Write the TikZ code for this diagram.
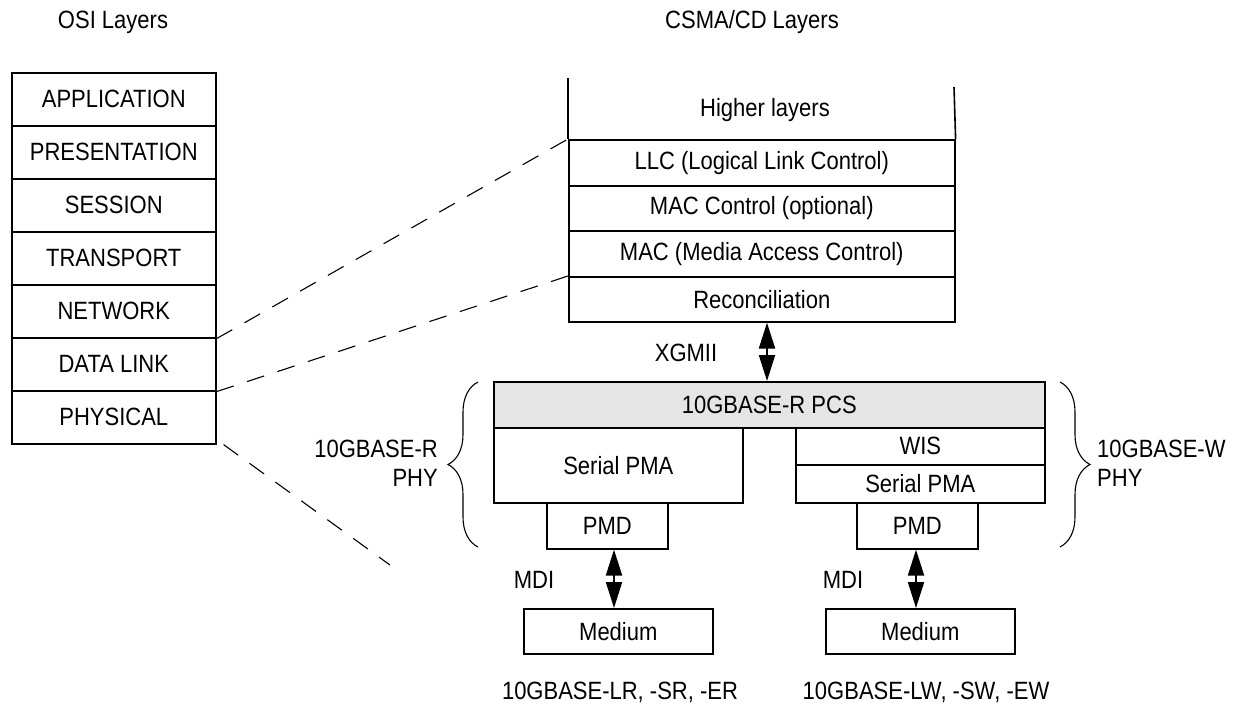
\documentclass[tikz,border=0pt]{standalone}
\usepackage{fontspec}
\setmainfont{Liberation Sans}[FakeStretch=0.88]
\usetikzlibrary{arrows.meta,decorations.pathreplacing}
\begin{document}
\begin{tikzpicture}[x=1pt,y=-1pt,
  every node/.style={font=\fontsize{25}{29}\selectfont},
  box/.style={draw,line width=1.6pt,inner sep=0pt,anchor=north west},
  grayfill/.style={fill=gray!20},
  dbl/.style={line width=2pt,{Triangle[length=26pt,width=16pt]}-{Triangle[length=26pt,width=16pt]}},
  dashline/.style={line width=1.1pt,dash pattern=on 18pt off 14pt},
  bracestyle/.style={line width=1.1pt,decorate,decoration={brace,amplitude=30pt}},
  lbl/.style={inner sep=0pt}]
\useasboundingbox (0,0) rectangle (1237,706);
% titles
\node[lbl] (osititle) at (113,22) {OSI Layers};
\node[lbl] (csmatitle) at (752,22) {CSMA/CD Layers};
% OSI stack
\node[box,minimum width=204pt,minimum height=53pt] (app) at (11,72) {APPLICATION};
\node[box,minimum width=204pt,minimum height=53pt] (pre) at (11,125) {PRESENTATION};
\node[box,minimum width=204pt,minimum height=53pt] (ses) at (11,178) {SESSION};
\node[box,minimum width=204pt,minimum height=53pt] (tra) at (11,231) {TRANSPORT};
\node[box,minimum width=204pt,minimum height=53pt] (net) at (11,284) {NETWORK};
\node[box,minimum width=204pt,minimum height=53pt] (dl) at (11,337) {DATA LINK};
\node[box,minimum width=204pt,minimum height=53pt] (phy) at (11,390) {PHYSICAL};
% CSMA/CD stack
\node[lbl] (hl) at (765,110) {Higher layers};
\node[box,minimum width=386pt,minimum height=46pt] (llc) at (568,139) {LLC (Logical Link Control)};
\node[box,minimum width=386pt,minimum height=45pt] (macc) at (568,185) {MAC Control (optional)};
\node[box,minimum width=386pt,minimum height=46pt] (mac) at (568,230) {MAC (Media Access Control)};
\node[box,minimum width=386pt,minimum height=45pt] (rec) at (568,276) {Reconciliation};
\coordinate (hlL) at (568,78);
\coordinate (hlR) at (954,87);
\draw[line width=1.6pt] (hlL) -- (llc.north west);
\draw[line width=1.6pt] (hlR) -- (llc.north east);
% PHY part
\node[box,grayfill,minimum width=551pt,minimum height=46pt] (pcs) at (493,381) {10GBASE-R PCS};
\node[box,minimum width=249pt,minimum height=75pt] (pmaL) at (493,427) {Serial PMA};
\node[box,minimum width=121pt,minimum height=46pt] (pmdL) at (546,502) {PMD};
\node[box,minimum width=249pt,minimum height=37pt] (wis) at (795,427) {WIS};
\node[box,minimum width=249pt,minimum height=38pt] (pmaR) at (795,464) {Serial PMA};
\node[box,minimum width=121pt,minimum height=46pt] (pmdR) at (856,502) {PMD};
\node[box,minimum width=189pt,minimum height=45pt] (medL) at (523,608) {Medium};
\node[box,minimum width=189pt,minimum height=45pt] (medR) at (825,608) {Medium};
% arrows
\coordinate (xg) at (767,0);
\coordinate (mdiLx) at (614,0);
\coordinate (mdiRx) at (916,0);
\draw[dbl] (rec.south -| xg) -- (pcs.north -| xg);
\draw[dbl] (pmdL.south -| mdiLx) -- (medL.north -| mdiLx);
\draw[dbl] (pmdR.south -| mdiRx) -- (medR.north -| mdiRx);
\node[lbl] (xgmii) at (686,353) {XGMII};
\node[lbl] (mdiL) at (534,580) {MDI};
\node[lbl] (mdiR) at (843,580) {MDI};
% dashed correspondences
\coordinate (d3end) at (390,565);
\draw[dashline] (net.south east) -- (llc.north west);
\draw[dashline] (dl.south east) -- (rec.north west);
\draw[dashline] ([xshift=7pt]phy.south east) -- (d3end);
% braces
\coordinate (bLt) at (478,382);
\coordinate (bLb) at (478,547);
\coordinate (bRt) at (1060,382);
\coordinate (bRb) at (1060,547);
\draw[bracestyle] (bLb) -- (bLt);
\draw[bracestyle] (bRt) -- (bRb);
\node[lbl,anchor=east] (rphy1) at (438,449) {10GBASE-R};
\node[lbl,anchor=east] (rphy2) at (438,478) {PHY};
\node[lbl,anchor=west] (wphy1) at (1097,449) {10GBASE-W};
\node[lbl,anchor=west] (wphy2) at (1097,478) {PHY};
% bottom labels
\node[lbl] (lrlab) at (620,692) {10GBASE-LR, -SR, -ER};
\node[lbl] (lwlab) at (926,692) {10GBASE-LW, -SW, -EW};
\end{tikzpicture}
\end{document}
